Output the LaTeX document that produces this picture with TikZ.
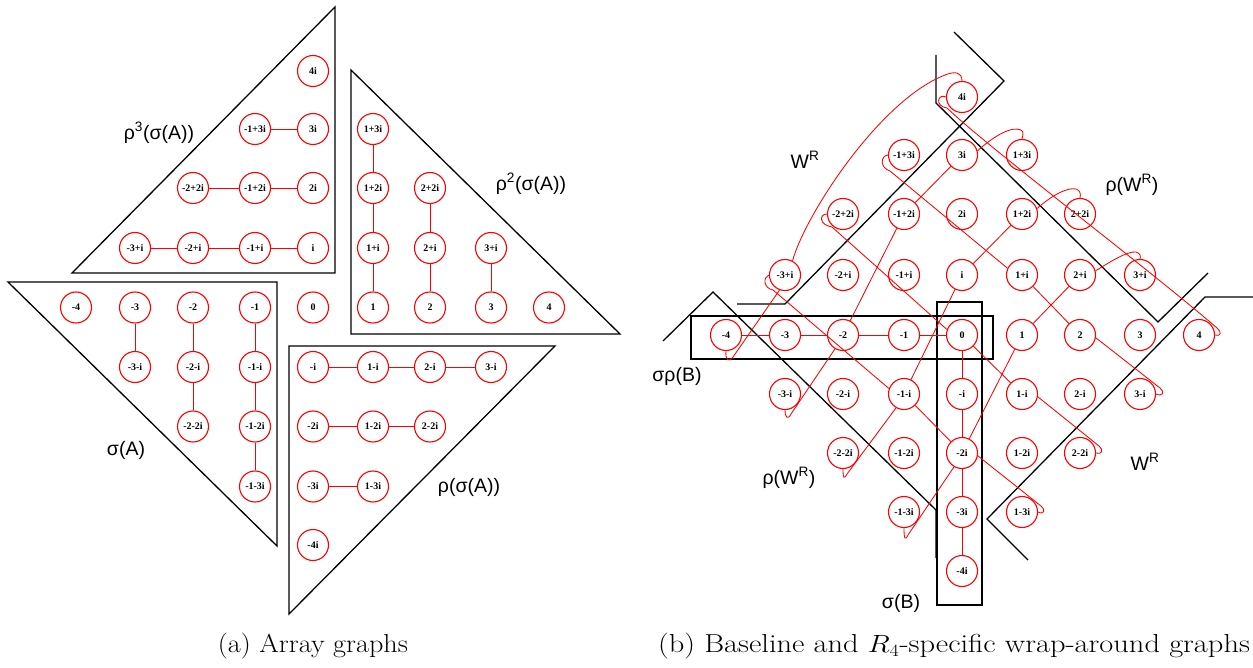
\documentclass[tikz,border=0pt]{standalone}
\usepackage{fontspec}
\usepackage{graphicx}
\newfontfamily\nfont{Liberation Serif}
\newfontfamily\lsans{Liberation Sans}
\usetikzlibrary{calc}
\tikzset{
  gn/.style={circle, draw=red, line width=1.1pt, fill=white, minimum size=31pt, inner sep=0pt,
             font=\nfont\bfseries\fontsize{10}{10}\selectfont},
  re/.style={red, line width=0.85pt},
  bl/.style={black, line width=1.3pt},
  lab/.style={font=\lsans\fontsize{19.5}{19.5}\selectfont, inner sep=0pt},
  captxt/.style={font=\fontsize{26}{30}\selectfont, inner sep=0pt},
}
\begin{document}
\begin{tikzpicture}[x=1pt,y=-1pt]
\useasboundingbox (0,0) rectangle (1253,668);
% ---------- left panel: triangles ----------
\draw[bl] (72,273) -- (335,7) -- (335,273) -- cycle;
\draw[bl] (351,70) -- (351,334) -- (620,334) -- cycle;
\draw[bl] (8,282) -- (277,282) -- (277,546) -- cycle;
\draw[bl] (289,346) -- (555,346) -- (289,614) -- cycle;
% ---------- right panel: boundaries ----------
\draw[bl] (737,304) -- (785,304) -- (1004,81) -- (954,32);
\draw[bl] (936,55) -- (936,103) -- (1158,322) -- (1208,273);
\draw[bl] (1253,297) -- (1205,297) -- (987,519) -- (1028,560);
\draw[bl] (663,341) -- (713,292) -- (936,510) -- (936,558);
\draw[bl] (691,316) rectangle (993,359);
\draw[bl] (937,302) rectangle (982,605);
% ---------- nodes ----------
\foreach \a/\b/\t in {0/4/4i, -1/3/-1+3i, 0/3/3i, 1/3/1+3i,
  -2/2/-2+2i, -1/2/-1+2i, 0/2/2i, 1/2/1+2i, 2/2/2+2i,
  -3/1/-3+i, -2/1/-2+i, -1/1/-1+i, 0/1/i, 1/1/1+i, 2/1/2+i, 3/1/3+i,
  -4/0/-4, -3/0/-3, -2/0/-2, -1/0/-1, 0/0/0, 1/0/1, 2/0/2, 3/0/3, 4/0/4,
  -3/-1/-3-i, -2/-1/-2-i, -1/-1/-1-i, 0/-1/-i, 1/-1/1-i, 2/-1/2-i, 3/-1/3-i,
  -2/-2/-2-2i, -1/-2/-1-2i, 0/-2/-2i, 1/-2/1-2i, 2/-2/2-2i,
  -1/-3/-1-3i, 0/-3/-3i, 1/-3/1-3i, 0/-4/-4i}{
  \pgfmathsetmacro\lx{{76,135,193,255,313,373,430,491,549}[int(\a+4)]}
  \pgfmathsetmacro\ly{{71,129,188,248,307.5,367,426.5,486.5,545}[int(4-\b)]}
  \pgfmathsetmacro\rx{{726,785,843,904,962,1022,1080,1140,1199}[int(\a+4)]}
  \pgfmathsetmacro\ry{{97,155,214,275,335,394,453,512,571}[int(4-\b)]}
  \node[gn] (L\a_\b) at (\lx,\ly) {\t};
  \node[gn] (R\a_\b) at (\rx,\ry) {\t};
}
% ---------- left panel edges ----------
\draw[re] (L-1_3) -- (L0_3);
\draw[re] (L-2_2) -- (L-1_2) -- (L0_2);
\draw[re] (L-3_1) -- (L-2_1) -- (L-1_1) -- (L0_1);
\draw[re] (L1_3) -- (L1_2) -- (L1_1) -- (L1_0);
\draw[re] (L2_2) -- (L2_1) -- (L2_0);
\draw[re] (L3_1) -- (L3_0);
\draw[re] (L-3_0) -- (L-3_-1);
\draw[re] (L-2_0) -- (L-2_-1) -- (L-2_-2);
\draw[re] (L-1_0) -- (L-1_-1) -- (L-1_-2) -- (L-1_-3);
\draw[re] (L0_-1) -- (L1_-1) -- (L2_-1) -- (L3_-1);
\draw[re] (L0_-2) -- (L1_-2) -- (L2_-2);
\draw[re] (L0_-3) -- (L1_-3);
% ---------- right panel edges ----------
\draw[re] (R-4_0) -- (R-3_0) -- (R-2_0) -- (R-1_0) -- (R0_0);
\draw[re] (R0_0) -- (R0_-1) -- (R0_-2) -- (R0_-3) -- (R0_-4);
\draw[re] (R0_3) -- (R-1_2);
\draw[re] (R-1_2) -- (R-2_0);
\draw[re] (R0_1) -- (R1_2);
\draw[re] (R0_1) -- (R-1_-1);
\draw[re] (R-1_-1) -- (R0_-2);
\draw[re] (R0_0) -- (R1_-1);
\draw[re] (R1_1) -- (R2_0);
\draw[re] (R1_0) -- (R2_1);
\draw[re] (R1_0) -- (R0_-2);
% wrap-around curves
\draw[re] (R-3_1.62) .. controls (805,215) and (880,100) .. (945,75) .. controls (955,71) and (962,72) .. (R0_4.north);
\draw[re] (R0_4.west) .. controls (938,93) and (934,106) .. (947,108) .. controls (985,145) and (1150,270) .. (1217,328) .. controls (1222,332) and (1221,337) .. (R4_0.east);
\draw[re] (R0_3.15) .. controls (995,135) and (1012,126) .. (1021,130) .. controls (1024,132) and (1023,135) .. (R1_3.north);
\draw[re] (R1_2.20) .. controls (1052,195) and (1068,187) .. (1076,189) .. controls (1080,190) and (1081,194) .. (R2_2.north);
\draw[re] (R2_1.15) .. controls (1110,262) and (1127,251) .. (1136,252) .. controls (1140,253) and (1141,256) .. (R3_1.north);
\draw[re] (R-1_3.west) .. controls (880,156) and (880,168) .. (890,171) -- (R1_1.155);
\draw[re] (R-2_2.west) .. controls (819,214) and (819,225) .. (832,227) -- (R0_0.160);
\draw[re] (R-3_1.west) .. controls (763,277) and (763,288) .. (773,290) -- (R-1_-1.160);
\draw[re] (R-3_1.-110) -- (733,357) .. controls (729,363) and (725,360) .. (R-4_0.south);
\draw[re] (R-2_0.-120) -- (791,414) .. controls (788,420) and (785,418) .. (R-3_-1.south);
\draw[re] (R-1_-1.-120) -- (847,474) .. controls (844,480) and (843,478) .. (R-2_-2.south);
\draw[re] (R0_-2.-120) -- (908,535) .. controls (905,541) and (904,539) .. (R-1_-3.south);
\draw[re] (R2_0.-10) -- (1160,388) .. controls (1165,392) and (1163,397) .. (R3_-1.east);
\draw[re] (R1_-1.-10) -- (1099,446) .. controls (1104,450) and (1102,455) .. (R2_-2.east);
\draw[re] (R0_-2.-10) -- (1041,506) .. controls (1046,510) and (1044,515) .. (R1_-3.east);
% ---------- labels ----------
\node[lab] (t1) at (159,133) {ρ\textsuperscript{3}(σ(A))};
\node[lab] (t2) at (531,184) {ρ\textsuperscript{2}(σ(A))};
\node[lab] (t3) at (126,450) {σ(A)};
\node[lab] (t4) at (469,487) {ρ(σ(A))};
\node[lab] (t5) at (805,160) {W\textsuperscript{R}};
\node[lab] (t6) at (1132,185) {ρ(W\textsuperscript{R})};
\node[lab] (t7) at (677,376) {σρ(B)};
\node[lab] (t8) at (789,478) {ρ(W\textsuperscript{R})};
\node[lab] (t9) at (1145,462) {W\textsuperscript{R}};
\node[lab] (t10) at (901,603) {σ(B)};
\node[captxt] (ca) at (313,646) {\resizebox{190pt}{\height}{(a) Array graphs}};
\node[captxt] (cb) at (954,646) {\resizebox{592pt}{\height}{(b) Baseline and $R_4$-specific wrap-around graphs}};
\end{tikzpicture}
\end{document}
